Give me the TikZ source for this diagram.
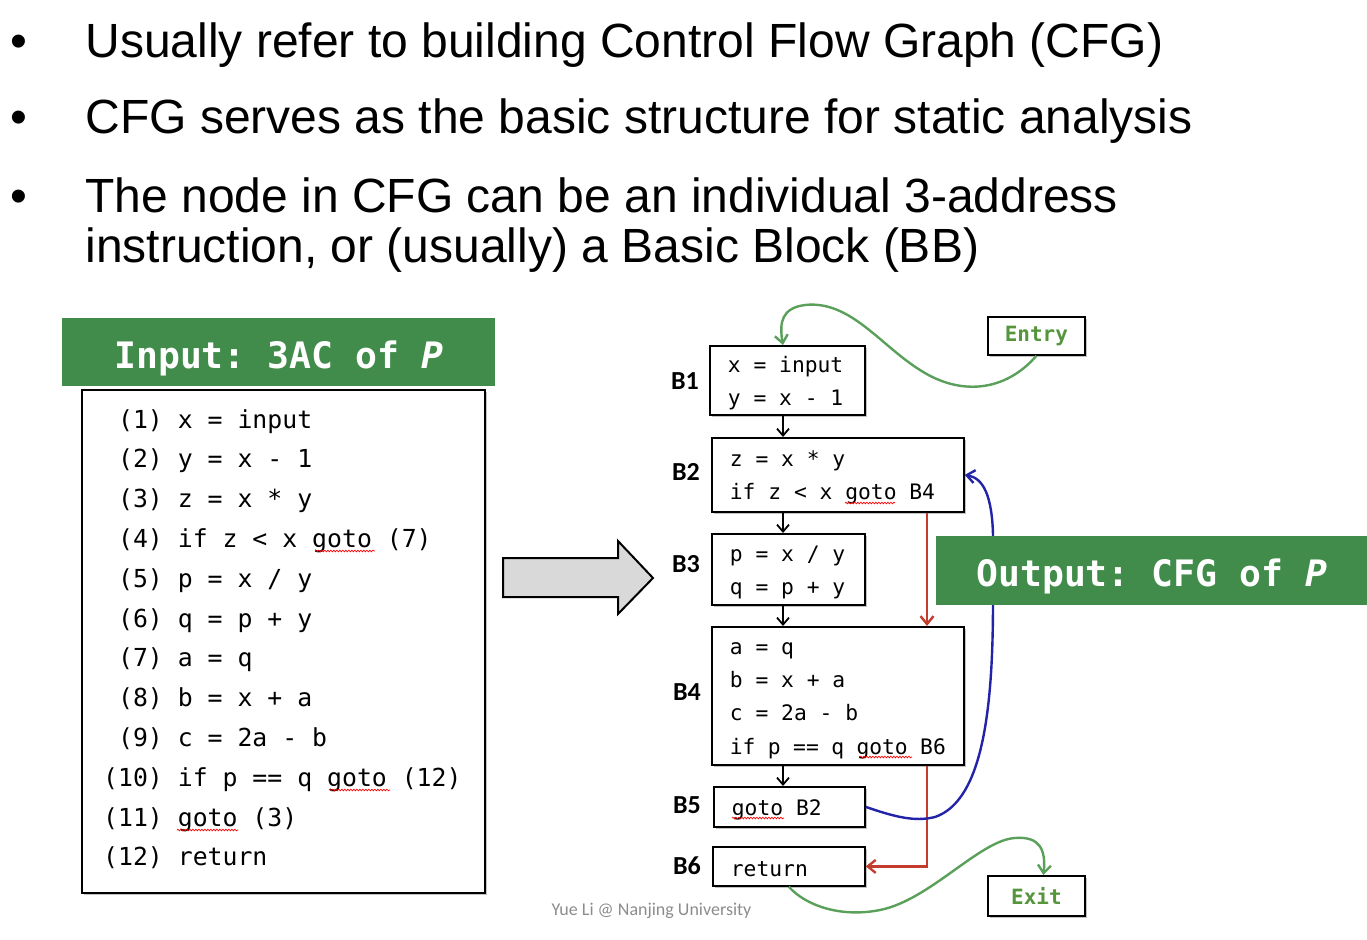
\documentclass[tikz,border=0pt]{standalone}
\usepackage{fontspec}
\setmainfont{Liberation Sans}
\newfontfamily\codefont{DejaVu Sans Mono}
\newfontfamily\lblfont{Carlito}
\usetikzlibrary{shadows,arrows.meta,decorations.pathmorphing}

\definecolor{hdgreen}{RGB}{65,140,75}
\definecolor{lngreen}{RGB}{90,160,90}
\definecolor{txgreen}{RGB}{85,150,60}
\definecolor{jmpred}{RGB}{195,60,45}
\definecolor{bkblue}{RGB}{35,35,170}

\tikzset{
  bul/.style={anchor=base west, font=\fontsize{48}{50}\selectfont},
  header/.style={fill=hdgreen, text=white, anchor=north west, inner sep=0pt,
    text height=32pt, text depth=0pt, font=\fontsize{36.4}{40}\codefont\bfseries},
  codeline/.style={anchor=base west, inner sep=0pt, font=\fontsize{24.8}{30}\codefont},
  shade/.style={drop shadow={shadow xshift=2.5pt, shadow yshift=-2.5pt, fill=black!40, opacity=.6}},
  block/.style={draw, line width=1.8pt, fill=white, shade, anchor=north west, align=left,
    inner xsep=18pt, inner ysep=0pt, font=\fontsize{21.3}{33.3}\codefont,
    execute at begin node={\spaceskip=0pt\xspaceskip=0pt\rule{0pt}{21pt}}},
  blabel/.style={font=\fontsize{26}{26}\lblfont\bfseries},
  term/.style={draw, line width=1.8pt, fill=white, shade, anchor=north west, text=txgreen,
    minimum width=97pt, font=\fontsize{21}{21}\codefont\bfseries},
  flow/.style={-{Straight Barb[length=7pt,width=12pt]}, line width=1.8pt},
  jump/.style={-{Straight Barb[length=8pt,width=13pt]}, line width=2.4pt},
  typo/.style={draw=red, line width=0.7pt, decorate,
    decoration={snake, amplitude=0.8pt, segment length=3pt}}
}

\begin{document}
\begin{tikzpicture}[x=1pt,y=-1pt]
  \useasboundingbox (0,0) rectangle (1367,939);

  \node (d1) [bul, anchor=base] at (19,58) {•};
  \node (t1) [bul] at (82,58) {Usually refer to building Control Flow Graph (CFG)};
  \node (d2) [bul, anchor=base] at (19,134) {•};
  \node (t2) [bul] at (82,134) {CFG serves as the basic structure for static analysis};
  \node (d3) [bul, anchor=base] at (19,212) {•};
  \node (t3) [bul] at (82,212) {The node in CFG can be an individual 3-address};
  \node (t4) [bul] at (82,262) {instruction, or (usually) a Basic Block (BB)};

  % input program
  \node (src) [draw, line width=1.8pt, fill=white, shade, anchor=north west,
    minimum width=403pt, minimum height=503pt] at (81,389) {};
  \node (inhd) [header, minimum width=433pt, minimum height=68pt] at (62,318) {Input:~3AC of {\itshape P}};
  \node (l1) [codeline] at (103,428) {\phantom{0}(1) x = input};
  \node (l2) [codeline] at (103,467.8) {\phantom{0}(2) y = x - 1};
  \node (l3) [codeline] at (103,507.6) {\phantom{0}(3) z = x * y};
  \node (l4) [codeline] at (103,547.4) {\phantom{0}(4) if z < x goto (7)};
  \node (l5) [codeline] at (103,587.2) {\phantom{0}(5) p = x / y};
  \node (l6) [codeline] at (103,627) {\phantom{0}(6) q = p + y};
  \node (l7) [codeline] at (103,666.8) {\phantom{0}(7) a = q};
  \node (l8) [codeline] at (103,706.6) {\phantom{0}(8) b = x + a};
  \node (l9) [codeline] at (103,746.4) {\phantom{0}(9) c = 2a - b};
  \node (l10) [codeline] at (103,786.2) {(10) if p == q goto (12)};
  \node (l11) [codeline] at (103,826) {(11) goto (3)};
  \node (l12) [codeline] at (103,865.8) {(12) return};

  \filldraw[fill=black!15, line width=2pt, line join=miter] (503,558) -- (618,558) -- (618,541)
    -- (653,578) -- (618,614) -- (618,597) -- (503,597) -- cycle;

  % basic blocks
  \node (b1) [block, text width=119pt, minimum height=69pt] at (709,345) {x = input\\y = x - 1};
  \node (b2) [block, text width=216pt, minimum height=74pt] at (711,437) {z = x * y\\if z < x goto B4};
  \node (b3) [block, text width=117pt, minimum height=71pt] at (711,533) {p = x / y\\q = p + y};
  \node (b4) [block, text width=216pt, minimum height=138pt] at (711,626) {a = q\\b = x + a\\c = 2a - b\\if p == q goto B6};
  \node (b5) [block, text width=115pt, minimum height=40pt] at (713,786) {goto B2};
  \node (b6) [block, text width=116pt, minimum height=39pt] at (712,846) {return};

  \node (lb1) [blabel] at (685,381) {B1};
  \node (lb2) [blabel] at (686,472) {B2};
  \node (lb3) [blabel] at (686,564) {B3};
  \node (lb4) [blabel] at (687,692) {B4};
  \node (lb5) [blabel] at (687,805) {B5};
  \node (lb6) [blabel] at (687,866) {B6};

  \node (entry) [term, minimum height=38pt] at (987,316) {Entry};
  \node (exit) [term, minimum height=40pt] at (987,875) {Exit};

  % spell-check marks
  \draw[typo] (315,551) -- (375,551);
  \draw[typo] (329,790) -- (390,790);
  \draw[typo] (177,830) -- (238,830);
  \draw[typo] (845,503) -- (895,503);
  \draw[typo] (860,757) -- (912,757);
  \draw[typo] (732,818) -- (784,818);

  \coordinate (mid) at (783,0);
  \coordinate (jmp) at (927,0);
  \draw[flow] (b1.south -| mid) -- (b2.north -| mid);
  \draw[flow] (b2.south -| mid) -- (b3.north -| mid);
  \draw[flow] (b3.south -| mid) -- (b4.north -| mid);
  \draw[flow] (b4.south -| mid) -- (b5.north -| mid);
  \draw[jump, jmpred] (b2.south -| jmp) -- (b4.north -| jmp);
  \draw[jump, jmpred] (b4.south -| jmp) |- (b6.east);
  \draw[jump, bkblue] (b5.east) .. controls (895,817) and (915,822) .. (935,817)
    .. controls (985,800) and (993,700) .. (993,600) -- (993,535)
    .. controls (992,495) and (983,478) .. (b2.east);
  \draw[jump, lngreen] (entry.south) .. controls (1005,392) and (960,396) .. (920,370)
    .. controls (880,345) and (850,300) .. (805,305)
    .. controls (782,308) and (779,322) .. (b1.north -| mid);
  \draw[jump, lngreen] (b6.south) .. controls (805,905) and (840,918) .. (880,910)
    .. controls (930,900) and (980,840) .. (1015,838)
    .. controls (1040,836) and (1046,850) .. ([xshift=7pt]exit.north);

  \node (outhd) [header, minimum width=431pt, minimum height=69pt] at (936,536) {Output:~CFG of {\itshape P}};

  \node (foot) [anchor=base west, text=black!45, font=\fontsize{18}{18}\lblfont] at (548,915) {Yue Li @ Nanjing University};
\end{tikzpicture}
\end{document}
